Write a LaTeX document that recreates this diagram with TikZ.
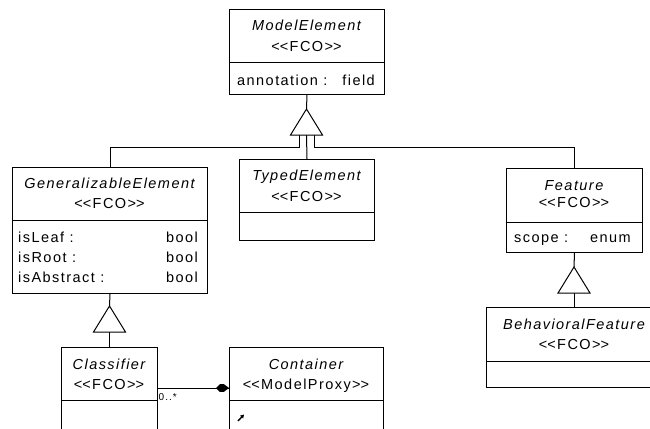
\documentclass[tikz,border=0pt]{standalone}
\usepackage{fontspec}
\setmainfont{Liberation Sans}[LetterSpace=10]
\usetikzlibrary{arrows.meta,shapes.geometric}
\newcommand{\stereo}[1]{<\kern0pt<#1>\kern0pt>}
\begin{document}
\begin{tikzpicture}[x=1pt,y=-1pt,
  box/.style={draw, line width=1pt, anchor=north west, inner sep=0pt},
  ttl/.style={anchor=base, font=\fontsize{14.5}{16}\selectfont\itshape, inner sep=0pt},
  ster/.style={anchor=base, font=\fontsize{14.5}{16}\selectfont, inner sep=0pt},
  attl/.style={anchor=base west, font=\fontsize{14.5}{16}\selectfont, inner sep=0pt},
  attr/.style={anchor=base east, font=\fontsize{14.5}{16}\selectfont, inner sep=0pt},
  ln/.style={line width=1pt},
  gentri/.style={draw, line width=1pt, fill=white}
]
\useasboundingbox (0,0) rectangle (650,428);
\fill[white] (0,0) rectangle (650,428);
\clip (0,0) rectangle (650,428);

% ModelElement
\node[box, minimum width=155pt, minimum height=84pt] (me) at (229,9.5) {};
\node[ttl] (meT) at (306.5,30.5) {ModelElement};
\node[ster] (meS) at (306.5,52) {\stereo{FCO}};
\draw[ln] (229,63) -- (384,63);
\node[attl] (meA) at (237,85) {annotation :};
\node[attr] (meB) at (375,85) {field};

% GeneralizableElement
\node[box, minimum width=195pt, minimum height=126pt] (ge) at (12,167) {};
\node[ttl] (geT) at (109.5,188.5) {GeneralizableElement};
\node[ster] (geS) at (109.5,208.5) {\stereo{FCO}};
\draw[ln] (12,220) -- (207,220);
\node[attl] (geA1) at (18,242) {isLeaf :};
\node[attr] (geB1) at (198,242) {bool};
\node[attl] (geA2) at (18,262) {isRoot :};
\node[attr] (geB2) at (198,262) {bool};
\node[attl] (geA3) at (18,282) {isAbstract :};
\node[attr] (geB3) at (198,282) {bool};

% TypedElement
\node[box, minimum width=135pt, minimum height=81pt] (te) at (239,159) {};
\node[ttl] (teT) at (306.5,180.5) {TypedElement};
\node[ster] (teS) at (306.5,201) {\stereo{FCO}};
\draw[ln] (239,212) -- (374,212);

% Feature
\node[box, minimum width=136pt, minimum height=84pt] (fe) at (506,168) {};
\node[ttl] (feT) at (574,190) {Feature};
\node[ster] (feS) at (574,207.5) {\stereo{FCO}};
\draw[ln] (506,222) -- (642,222);
\node[attl] (feA) at (514,242) {scope :};
\node[attr] (feB) at (631,242) {enum};

% BehavioralFeature
\node[box, minimum width=176pt, minimum height=80pt] (bf) at (486,307) {};
\node[ttl] (bfT) at (574,329) {BehavioralFeature};
\node[ster] (bfS) at (574,349) {\stereo{FCO}};
\draw[ln] (486,361) -- (662,361);

% Classifier
\node[box, minimum width=96pt, minimum height=100pt] (cl) at (61,347) {};
\node[ttl] (clT) at (109,369.5) {Classifier};
\node[ster] (clS) at (109,389) {\stereo{FCO}};
\draw[ln] (61,400) -- (157,400);

% Container
\node[box, minimum width=154pt, minimum height=100pt] (co) at (229,347) {};
\node[ttl] (coT) at (306,369.5) {Container};
\node[ster] (coS) at (306,389) {\stereo{ModelProxy}};
\draw[ln] (229,400) -- (383,400);
\draw[-{Triangle[length=3.5pt,width=4pt]}, line width=1.4pt] (238,421) -- (244,414.5);

% Generalization: ModelElement
\coordinate (t1a) at (306.5,109);
\coordinate (t1b) at (306.5,135);
\coordinate (t1l) at (299,135);
\coordinate (t1r) at (314,135);
\draw[ln] (me.south) -- (t1a);
\draw[ln] (t1l) -- ++(0,12) -| (ge.north);
\draw[ln] (t1r) -- ++(0,12) -| (fe.north);
\draw[ln] (t1b) -- (te.north);
\draw[gentri] (t1a) -- ++(-16,26) -- ++(32,0) -- cycle;

% Generalization: GeneralizableElement
\coordinate (t2a) at (109.5,306);
\coordinate (t2b) at (109.5,332);
\draw[ln] (ge.south) -- (t2a);
\draw[ln] (t2b) -- (cl.north -| t2b);
\draw[gentri] (t2a) -- ++(-16,26) -- ++(32,0) -- cycle;

% Generalization: Feature
\coordinate (t3a) at (574,267);
\coordinate (t3b) at (574,293);
\draw[ln] (fe.south) -- (t3a);
\draw[ln] (t3b) -- (bf.north -| t3b);
\draw[gentri] (t3a) -- ++(-16,26) -- ++(32,0) -- cycle;

% Association Classifier - Container
\coordinate (yA) at (0,388);
\coordinate (assocEnd) at (co.west |- yA);
\draw[ln] (cl.east |- yA) -- (assocEnd);
\fill (assocEnd) -- ++(-5,-3.8) -- ++(-4,-0.2) -- ++(-4,4) -- ++(4,4) -- ++(4,-0.2) -- cycle;
\node[anchor=base west, font=\fontsize{10}{11}\selectfont, inner sep=0pt] (mult) at (158.5,400) {0..*};
\end{tikzpicture}
\end{document}
